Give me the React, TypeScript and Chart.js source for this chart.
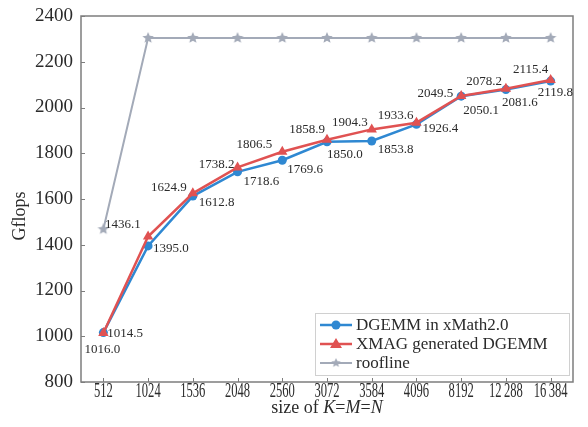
import React, { useEffect, useRef } from "react";
import { Chart, registerables } from "chart.js";

Chart.register(...registerables);

const categories = ["512", "1024", "1536", "2048", "2560", "3072", "3584", "4096", "8192", "12\u2009288", "16\u2009384"];
const xmathValues = [1016.0, 1395.0, 1612.8, 1718.6, 1769.6, 1850.0, 1853.8, 1926.4, 2049.5, 2078.2, 2115.4];
const xmagValues = [1014.5, 1436.1, 1624.9, 1738.2, 1806.5, 1858.9, 1904.3, 1933.6, 2050.1, 2081.6, 2119.8];
const rooflineValues = [1468, 2304, 2304, 2304, 2304, 2304, 2304, 2304, 2304, 2304, 2304];
const yTicks = [800, 1000, 1200, 1400, 1600, 1800, 2000, 2200, 2400];
const seriesNames = ["DGEMM in xMath2.0", "XMAG generated DGEMM", "roofline"];

// label placement (dx, dy, align) relative to each point
const xmathLabelPos: [number, number, CanvasTextAlign][] = [
  [-1, 17, "center"], [5, 3, "left"], [6, 7, "left"], [6, 10, "left"], [5, 9, "left"],
  [0, 13, "left"], [6, 9, "left"], [6, 4, "left"], [-8, -3, "right"], [-4, -8, "right"], [-20, -12, "center"],
];
const xmagLabelPos: [number, number, CanvasTextAlign][] = [
  [4, 1, "left"], [-43, -12, "left"], [-6, -6, "right"], [-3, -3, "right"], [-10, -7, "right"],
  [-2, -10, "right"], [-4, -7, "right"], [-3, -7, "right"], [2, 15, "left"], [-4, 14, "left"], [-13, 12, "left"],
];

const BLUE = "#2f88d2";
const RED = "#e05252";
const GRAY = "#a3aab8";
const SERIF = '"Liberation Serif", "Times New Roman", serif';
const TEXT = "#2b2b2b";

function makeStar(size: number, color: string) {
  const c = document.createElement("canvas");
  c.width = size;
  c.height = size;
  const ctx = c.getContext("2d")!;
  const cx = size / 2, cy = size / 2, R = size / 2, r = R * 0.45;
  ctx.beginPath();
  for (let i = 0; i < 10; i++) {
    const ang = -Math.PI / 2 + (i * Math.PI) / 5;
    const rad = i % 2 === 0 ? R : r;
    const x = cx + rad * Math.cos(ang), y = cy + rad * Math.sin(ang);
    if (i === 0) ctx.moveTo(x, y); else ctx.lineTo(x, y);
  }
  ctx.closePath();
  ctx.fillStyle = color;
  ctx.fill();
  return c;
}

export default function App() {
  const ref = useRef<HTMLCanvasElement>(null);
  useEffect(() => {
    const star = makeStar(12, GRAY);
    const decor = {
      id: "decor",
      afterDraw(chart: any) {
        const ctx = chart.ctx as CanvasRenderingContext2D;
        const area = chart.chartArea;
        const xs = chart.scales.x;
        const ys = chart.scales.y;
        ctx.save();
        // frame
        ctx.strokeStyle = "#7d7d7d";
        ctx.lineWidth = 1.5;
        ctx.strokeRect(area.left, area.top, area.right - area.left, area.bottom - area.top);
        // inward tick marks
        ctx.lineWidth = 1;
        ctx.beginPath();
        categories.forEach((_, i) => {
          const x = Math.round(xs.getPixelForTick(i)) + 0.5;
          ctx.moveTo(x, area.bottom);
          ctx.lineTo(x, area.bottom - 4);
        });
        yTicks.forEach((v) => {
          const y = Math.round(ys.getPixelForValue(v)) + 0.5;
          ctx.moveTo(area.left, y);
          ctx.lineTo(area.left + 4, y);
        });
        ctx.stroke();

        // data labels
        ctx.fillStyle = TEXT;
        ctx.font = `13px ${SERIF}`;
        ctx.textBaseline = "middle";
        const drawLabels = (dsIndex: number, values: number[], pos: [number, number, CanvasTextAlign][]) => {
          const meta = chart.getDatasetMeta(dsIndex);
          meta.data.forEach((pt: any, i: number) => {
            const [dx, dy, al] = pos[i];
            ctx.textAlign = al;
            ctx.fillText(values[i].toFixed(1), pt.x + dx, pt.y + dy);
          });
        };
        drawLabels(0, xmathValues, xmathLabelPos);
        drawLabels(1, xmagValues, xmagLabelPos);

        // x tick labels (condensed)
        ctx.font = `21px ${SERIF}`;
        ctx.textAlign = "center";
        ctx.textBaseline = "alphabetic";
        categories.forEach((lab, i) => {
          const x = xs.getPixelForTick(i);
          ctx.save();
          ctx.translate(x, area.bottom + 15);
          ctx.scale(0.6, 1);
          ctx.fillText(lab, 0, 0);
          ctx.restore();
        });

        // x title with italics
        const segs: [string, boolean][] = [["size of ", false], ["K", true], ["=", false], ["M", true], ["=", false], ["N", true]];
        let total = 0;
        const widths = segs.map(([t, it]) => {
          ctx.font = `${it ? "italic " : ""}18px ${SERIF}`;
          const w = ctx.measureText(t).width;
          total += w;
          return w;
        });
        let sx = (area.left + area.right) / 2 - total / 2;
        ctx.textAlign = "left";
        segs.forEach(([t, it], i) => {
          ctx.font = `${it ? "italic " : ""}18px ${SERIF}`;
          ctx.fillText(t, sx, 413);
          sx += widths[i];
        });

        // y title
        ctx.save();
        ctx.translate(20, 216);
        ctx.rotate(-Math.PI / 2);
        ctx.font = `18px ${SERIF}`;
        ctx.textAlign = "center";
        ctx.textBaseline = "middle";
        ctx.fillText("Gflops", 0, 0);
        ctx.restore();

        // legend
        const lx = 315, ly = 313, lw = 254, lh = 62;
        ctx.fillStyle = "rgba(255,255,255,0.9)";
        ctx.fillRect(lx, ly, lw, lh);
        ctx.strokeStyle = "#d0d0d0";
        ctx.lineWidth = 1;
        ctx.strokeRect(lx + 0.5, ly + 0.5, lw, lh);
        const rows = [
          { y: 325, color: BLUE, kind: "circle" },
          { y: 344, color: RED, kind: "triangle" },
          { y: 363, color: GRAY, kind: "star" },
        ];
        rows.forEach((r, i) => {
          ctx.strokeStyle = r.color;
          ctx.lineWidth = r.kind === "star" ? 2 : 2.5;
          ctx.beginPath();
          ctx.moveTo(320, r.y);
          ctx.lineTo(352, r.y);
          ctx.stroke();
          ctx.fillStyle = r.color;
          if (r.kind === "circle") {
            ctx.beginPath();
            ctx.arc(336, r.y, 4.5, 0, Math.PI * 2);
            ctx.fill();
          } else if (r.kind === "triangle") {
            ctx.beginPath();
            ctx.moveTo(336, r.y - 6);
            ctx.lineTo(342, r.y + 4);
            ctx.lineTo(330, r.y + 4);
            ctx.closePath();
            ctx.fill();
          } else {
            ctx.drawImage(star, 331, r.y - 5, 10, 10);
          }
          ctx.fillStyle = TEXT;
          ctx.font = `17px ${SERIF}`;
          ctx.textAlign = "left";
          ctx.textBaseline = "middle";
          ctx.fillText(seriesNames[i], 356, r.y + 1);
        });
        ctx.restore();
      },
    };

    const chart = new Chart(ref.current!, {
      type: "line",
      data: {
        labels: categories,
        datasets: [
          {
            label: seriesNames[0],
            data: xmathValues,
            borderColor: BLUE,
            backgroundColor: BLUE,
            borderWidth: 2.5,
            pointStyle: "circle",
            pointRadius: 4.5,
            pointBorderWidth: 0,
            order: 1,
          },
          {
            label: seriesNames[1],
            data: xmagValues,
            borderColor: RED,
            backgroundColor: RED,
            borderWidth: 2.5,
            pointStyle: "triangle",
            pointRadius: 6,
            pointBorderWidth: 0,
            order: 0,
          },
          {
            label: seriesNames[2],
            data: rooflineValues,
            borderColor: GRAY,
            backgroundColor: GRAY,
            borderWidth: 2,
            pointStyle: star as any,
            pointRadius: 5,
            order: 2,
          },
        ],
      },
      options: {
        animation: false,
        responsive: false,
        maintainAspectRatio: false,
        layout: { padding: { top: 16, right: 15, left: 0, bottom: 0 } },
        plugins: { legend: { display: false }, tooltip: { enabled: false } },
        scales: {
          x: {
            offset: true,
            grid: { drawOnChartArea: false, drawTicks: false },
            border: { display: false },
            ticks: { display: false },
            afterFit: (s: any) => { s.height = 45; s.paddingLeft = 0; s.paddingRight = 0; },
          },
          y: {
            min: 800,
            max: 2400,
            afterBuildTicks: (s: any) => { s.ticks = yTicks.map((v) => ({ value: v })); },
            grid: { drawOnChartArea: false, drawTicks: false },
            border: { display: false },
            ticks: { padding: 8, color: TEXT, font: { family: SERIF, size: 19 }, callback: (v: any) => String(v) },
            afterFit: (s: any) => { s.width = 81; s.paddingTop = 0; s.paddingBottom = 0; },
          },
        },
      },
      plugins: [decor],
    });
    return () => chart.destroy();
  }, []);
  return (
    <div style={{ position: "fixed", left: 0, top: 0, width: 588, height: 427, background: "#fff" }}>
      <canvas ref={ref} width={588} height={427} style={{ width: 588, height: 427 }} />
    </div>
  );
}
